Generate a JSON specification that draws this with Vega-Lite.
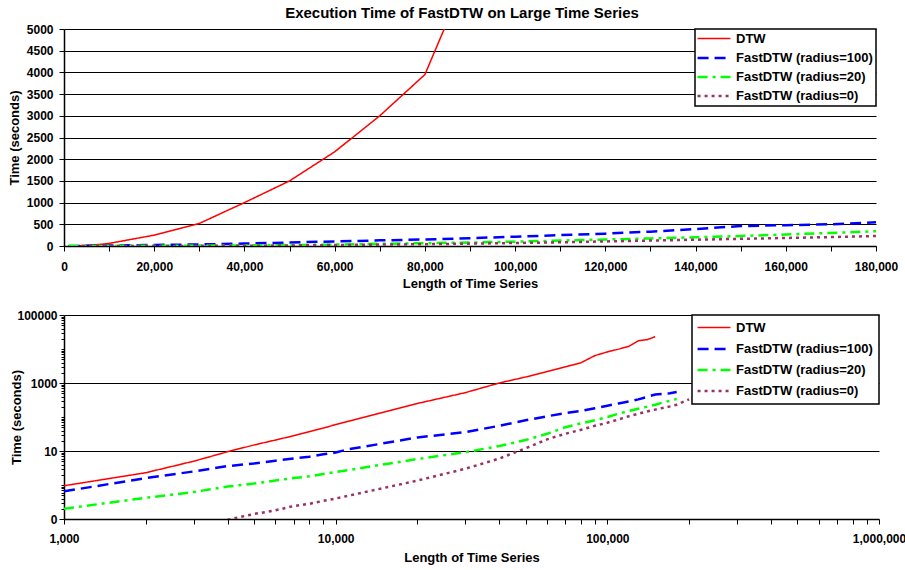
{
  "$schema": "https://vega.github.io/schema/vega-lite/v6.json",
  "background": "white",
  "padding": {"left": 8, "top": 6, "right": 4, "bottom": 4},
  "config": {
    "font": "Liberation Sans",
    "view": {"stroke": null},
    "axis": {
      "labelFont": "Liberation Sans", "labelFontWeight": "bold", "labelFontSize": 12, "labelColor": "#000",
      "titleFont": "Liberation Sans", "titleFontSize": 13, "titleFontWeight": "bold", "titleColor": "#000",
      "domainColor": "#000", "domainWidth": 1.5, "tickColor": "#000", "tickWidth": 1,
      "gridColor": "#000", "gridWidth": 1.2, "gridOpacity": 1, "labelOverlap": false, "labelFlush": false
    },
    "legend": {
      "title": null, "orient": "top-right", "offset": 0,
      "strokeColor": "#000", "strokeWidth": 1.5, "fillColor": "white", "padding": 4,
      "labelFont": "Liberation Sans", "labelFontSize": 13, "labelFontWeight": "bold", "labelColor": "#000",
      "symbolType": "M-3,0H3", "symbolSize": 120, "symbolOffset": 9, "labelOffset": 15, "rowPadding": 6
    },
    "title": {"font": "Liberation Sans", "fontSize": 15, "fontWeight": "bold", "color": "#000"}
  },
  "datasets": {
    "times": [
      {"series": "DTW", "length": 1000, "time": 0.95},
      {"series": "DTW", "length": 2000, "time": 2.3},
      {"series": "DTW", "length": 3000, "time": 5},
      {"series": "DTW", "length": 4000, "time": 9.5},
      {"series": "DTW", "length": 5000, "time": 15},
      {"series": "DTW", "length": 6000, "time": 21},
      {"series": "DTW", "length": 7000, "time": 28},
      {"series": "DTW", "length": 8000, "time": 37},
      {"series": "DTW", "length": 9000, "time": 47},
      {"series": "DTW", "length": 10000, "time": 60},
      {"series": "DTW", "length": 20000, "time": 250},
      {"series": "DTW", "length": 30000, "time": 520},
      {"series": "DTW", "length": 40000, "time": 1000},
      {"series": "DTW", "length": 50000, "time": 1500},
      {"series": "DTW", "length": 60000, "time": 2170},
      {"series": "DTW", "length": 70000, "time": 3000},
      {"series": "DTW", "length": 80000, "time": 3950},
      {"series": "DTW", "length": 90000, "time": 6400},
      {"series": "DTW", "length": 100000, "time": 8200},
      {"series": "DTW", "length": 110000, "time": 9900},
      {"series": "DTW", "length": 120000, "time": 12000},
      {"series": "DTW", "length": 130000, "time": 17500},
      {"series": "DTW", "length": 140000, "time": 18800},
      {"series": "DTW", "length": 150000, "time": 23000},

      {"series": "FastDTW (radius=100)", "length": 1000, "time": 0.65},
      {"series": "FastDTW (radius=100)", "length": 2000, "time": 1.6},
      {"series": "FastDTW (radius=100)", "length": 3000, "time": 2.5},
      {"series": "FastDTW (radius=100)", "length": 4000, "time": 3.6},
      {"series": "FastDTW (radius=100)", "length": 5000, "time": 4.3},
      {"series": "FastDTW (radius=100)", "length": 6000, "time": 5.2},
      {"series": "FastDTW (radius=100)", "length": 7000, "time": 6},
      {"series": "FastDTW (radius=100)", "length": 8000, "time": 6.8},
      {"series": "FastDTW (radius=100)", "length": 9000, "time": 8},
      {"series": "FastDTW (radius=100)", "length": 10000, "time": 9},
      {"series": "FastDTW (radius=100)", "length": 11000, "time": 11},
      {"series": "FastDTW (radius=100)", "length": 20000, "time": 25},
      {"series": "FastDTW (radius=100)", "length": 30000, "time": 36},
      {"series": "FastDTW (radius=100)", "length": 40000, "time": 55},
      {"series": "FastDTW (radius=100)", "length": 50000, "time": 80},
      {"series": "FastDTW (radius=100)", "length": 60000, "time": 105},
      {"series": "FastDTW (radius=100)", "length": 70000, "time": 130},
      {"series": "FastDTW (radius=100)", "length": 80000, "time": 150},
      {"series": "FastDTW (radius=100)", "length": 90000, "time": 180},
      {"series": "FastDTW (radius=100)", "length": 100000, "time": 215},
      {"series": "FastDTW (radius=100)", "length": 110000, "time": 250},
      {"series": "FastDTW (radius=100)", "length": 120000, "time": 285},
      {"series": "FastDTW (radius=100)", "length": 130000, "time": 330},
      {"series": "FastDTW (radius=100)", "length": 140000, "time": 390},
      {"series": "FastDTW (radius=100)", "length": 150000, "time": 460},
      {"series": "FastDTW (radius=100)", "length": 160000, "time": 480},
      {"series": "FastDTW (radius=100)", "length": 170000, "time": 500},
      {"series": "FastDTW (radius=100)", "length": 180000, "time": 545},

      {"series": "FastDTW (radius=20)", "length": 1000, "time": 0.2},
      {"series": "FastDTW (radius=20)", "length": 2000, "time": 0.42},
      {"series": "FastDTW (radius=20)", "length": 3000, "time": 0.62},
      {"series": "FastDTW (radius=20)", "length": 4000, "time": 0.9},
      {"series": "FastDTW (radius=20)", "length": 5000, "time": 1.1},
      {"series": "FastDTW (radius=20)", "length": 6000, "time": 1.35},
      {"series": "FastDTW (radius=20)", "length": 7000, "time": 1.6},
      {"series": "FastDTW (radius=20)", "length": 8000, "time": 1.8},
      {"series": "FastDTW (radius=20)", "length": 9000, "time": 2.1},
      {"series": "FastDTW (radius=20)", "length": 10000, "time": 2.4},
      {"series": "FastDTW (radius=20)", "length": 20000, "time": 5.8},
      {"series": "FastDTW (radius=20)", "length": 30000, "time": 9.2},
      {"series": "FastDTW (radius=20)", "length": 40000, "time": 14},
      {"series": "FastDTW (radius=20)", "length": 50000, "time": 21},
      {"series": "FastDTW (radius=20)", "length": 60000, "time": 32},
      {"series": "FastDTW (radius=20)", "length": 70000, "time": 50},
      {"series": "FastDTW (radius=20)", "length": 80000, "time": 65},
      {"series": "FastDTW (radius=20)", "length": 90000, "time": 80},
      {"series": "FastDTW (radius=20)", "length": 100000, "time": 100},
      {"series": "FastDTW (radius=20)", "length": 110000, "time": 125},
      {"series": "FastDTW (radius=20)", "length": 120000, "time": 150},
      {"series": "FastDTW (radius=20)", "length": 130000, "time": 175},
      {"series": "FastDTW (radius=20)", "length": 140000, "time": 200},
      {"series": "FastDTW (radius=20)", "length": 150000, "time": 230},
      {"series": "FastDTW (radius=20)", "length": 160000, "time": 265},
      {"series": "FastDTW (radius=20)", "length": 170000, "time": 300},
      {"series": "FastDTW (radius=20)", "length": 180000, "time": 340},

      {"series": "FastDTW (radius=0)", "length": 4000, "time": 0.095},
      {"series": "FastDTW (radius=0)", "length": 5000, "time": 0.14},
      {"series": "FastDTW (radius=0)", "length": 6000, "time": 0.18},
      {"series": "FastDTW (radius=0)", "length": 7000, "time": 0.24},
      {"series": "FastDTW (radius=0)", "length": 8000, "time": 0.28},
      {"series": "FastDTW (radius=0)", "length": 9000, "time": 0.34},
      {"series": "FastDTW (radius=0)", "length": 10000, "time": 0.4},
      {"series": "FastDTW (radius=0)", "length": 20000, "time": 1.35},
      {"series": "FastDTW (radius=0)", "length": 30000, "time": 3},
      {"series": "FastDTW (radius=0)", "length": 40000, "time": 6},
      {"series": "FastDTW (radius=0)", "length": 50000, "time": 12},
      {"series": "FastDTW (radius=0)", "length": 60000, "time": 22},
      {"series": "FastDTW (radius=0)", "length": 70000, "time": 32},
      {"series": "FastDTW (radius=0)", "length": 80000, "time": 42},
      {"series": "FastDTW (radius=0)", "length": 90000, "time": 55},
      {"series": "FastDTW (radius=0)", "length": 100000, "time": 68},
      {"series": "FastDTW (radius=0)", "length": 110000, "time": 85},
      {"series": "FastDTW (radius=0)", "length": 120000, "time": 105},
      {"series": "FastDTW (radius=0)", "length": 130000, "time": 125},
      {"series": "FastDTW (radius=0)", "length": 140000, "time": 145},
      {"series": "FastDTW (radius=0)", "length": 150000, "time": 165},
      {"series": "FastDTW (radius=0)", "length": 160000, "time": 185},
      {"series": "FastDTW (radius=0)", "length": 170000, "time": 205},
      {"series": "FastDTW (radius=0)", "length": 180000, "time": 230},
      {"series": "FastDTW (radius=0)", "length": 200000, "time": 330}
    ]
  },
  "spacing": 19,
  "resolve": {"legend": {"color": "independent", "strokeDash": "independent", "strokeWidth": "independent"}},
  "vconcat": [
    {
      "title": {"text": "Execution Time of FastDTW on Large Time Series", "anchor": "middle", "offset": 2, "dx": -8},
      "width": 812,
      "height": 217,
      "data": {"name": "times"},
      "mark": {"type": "line", "clip": true},
      "encoding": {
        "x": {
          "field": "length", "type": "quantitative",
          "scale": {"domain": [0, 180000], "nice": false},
          "axis": {
            "title": "Length of Time Series",
            "values": [0, 10000, 20000, 30000, 40000, 50000, 60000, 70000, 80000, 90000, 100000, 110000, 120000, 130000, 140000, 150000, 160000, 170000, 180000],
            "labelExpr": "datum.value % 20000 == 0 ? format(datum.value, ',') : ''",
            "grid": false, "tickSize": 5, "labelPadding": 10, "titlePadding": 5
          }
        },
        "y": {
          "field": "time", "type": "quantitative",
          "scale": {"domain": [0, 5000], "nice": false},
          "axis": {
            "title": "Time (seconds)",
            "values": [0, 500, 1000, 1500, 2000, 2500, 3000, 3500, 4000, 4500, 5000],
            "format": "d", "grid": true, "tickSize": 5, "labelPadding": 6, "titlePadding": 5
          }
        },
        "color": {
          "field": "series", "type": "nominal",
          "scale": {"domain": ["DTW", "FastDTW (radius=100)", "FastDTW (radius=20)", "FastDTW (radius=0)"], "range": ["#FF0000", "#0000FF", "#00FF00", "#993366"]},
          "legend": {"rowPadding": 5, "padding": 3}
        },
        "strokeDash": {
          "field": "series", "type": "nominal",
          "scale": {"domain": ["DTW", "FastDTW (radius=100)", "FastDTW (radius=20)", "FastDTW (radius=0)"], "range": [[1, 0], [11, 6], [10, 5, 3, 5], [3, 4]]}
        },
        "strokeWidth": {
          "field": "series", "type": "nominal",
          "scale": {"type": "ordinal", "domain": ["DTW", "FastDTW (radius=100)", "FastDTW (radius=20)", "FastDTW (radius=0)"], "range": [1.5, 2.5, 2.5, 2.5]}
        }
      }
    },
    {
      "width": 815,
      "height": 204,
      "data": {"name": "times"},
      "mark": {"type": "line", "clip": true},
      "encoding": {
        "x": {
          "field": "length", "type": "quantitative",
          "scale": {"type": "log", "domain": [1000, 1000000], "nice": false},
          "axis": {
            "title": "Length of Time Series",
            "values": [1000, 2000, 3000, 4000, 5000, 6000, 7000, 8000, 9000, 10000, 20000, 30000, 40000, 50000, 60000, 70000, 80000, 90000, 100000, 200000, 300000, 400000, 500000, 600000, 700000, 800000, 900000, 1000000],
            "labelExpr": "indexof([1000, 10000, 100000, 1000000], datum.value) >= 0 ? format(datum.value, ',') : ''",
            "grid": false, "tickSize": 5, "labelPadding": 9, "titlePadding": 7
          }
        },
        "y": {
          "field": "time", "type": "quantitative",
          "scale": {"type": "log", "domain": [0.1, 100000], "nice": false},
          "axis": {
            "title": "Time (seconds)",
            "values": [0.1, 0.2, 0.3, 0.4, 0.5, 0.6, 0.7, 0.8, 0.9, 1, 2, 3, 4, 5, 6, 7, 8, 9, 10, 20, 30, 40, 50, 60, 70, 80, 90, 100, 200, 300, 400, 500, 600, 700, 800, 900, 1000, 2000, 3000, 4000, 5000, 6000, 7000, 8000, 9000, 10000, 20000, 30000, 40000, 50000, 60000, 70000, 80000, 90000, 100000],
            "labelExpr": "datum.value == 0.1 ? '0' : (datum.value == 10 || datum.value == 1000 || datum.value == 100000) ? format(datum.value, 'd') : ''",
            "grid": true,
            "gridOpacity": {"condition": {"test": "datum.value == 10 || datum.value == 1000 || datum.value == 100000", "value": 1}, "value": 0},
            "tickSize": {"condition": {"test": "datum.value == 0.1 || datum.value == 10 || datum.value == 1000 || datum.value == 100000", "value": 5}, "value": 3},
            "labelPadding": 2, "titlePadding": -7
          }
        },
        "color": {
          "field": "series", "type": "nominal",
          "scale": {"domain": ["DTW", "FastDTW (radius=100)", "FastDTW (radius=20)", "FastDTW (radius=0)"], "range": ["#FF0000", "#0000FF", "#00FF00", "#993366"]},
          "legend": {"rowPadding": 7, "padding": 6}
        },
        "strokeDash": {
          "field": "series", "type": "nominal",
          "scale": {"domain": ["DTW", "FastDTW (radius=100)", "FastDTW (radius=20)", "FastDTW (radius=0)"], "range": [[1, 0], [11, 6], [10, 5, 3, 5], [3, 4]]}
        },
        "strokeWidth": {
          "field": "series", "type": "nominal",
          "scale": {"type": "ordinal", "domain": ["DTW", "FastDTW (radius=100)", "FastDTW (radius=20)", "FastDTW (radius=0)"], "range": [1.5, 2.5, 2.5, 2.5]}
        }
      }
    }
  ]
}
